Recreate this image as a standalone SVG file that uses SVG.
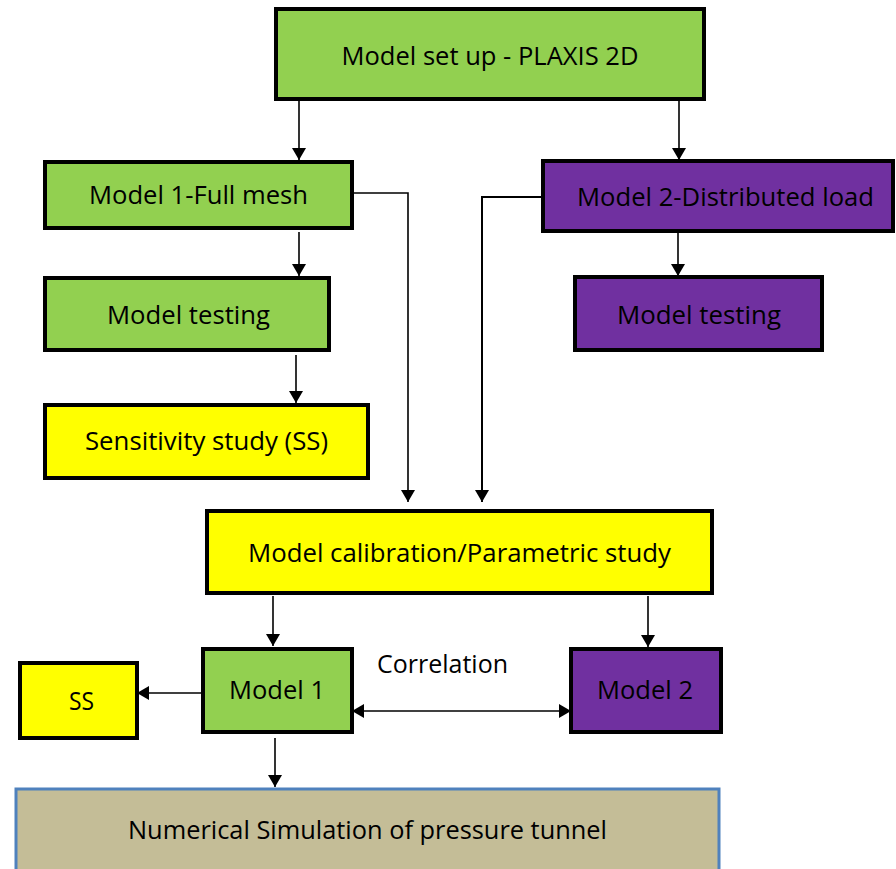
<svg xmlns="http://www.w3.org/2000/svg" width="896" height="869" viewBox="0 0 896 869">
<style>
.box{stroke:#000;stroke-width:4}
.g{fill:#92D050}.p{fill:#7030A0}.y{fill:#FFFF00}
.t{font-family:"Open Sans","Noto Sans","Liberation Sans",sans-serif;font-size:26px;fill:#000}
.c{fill:none;stroke:#000;stroke-width:1.6}
</style>
<defs>
<marker id="ah" viewBox="0 0 12 14" refX="12" refY="7" markerWidth="12" markerHeight="14" markerUnits="userSpaceOnUse" orient="auto-start-reverse">
<path d="M0,0 L12,7 L0,14 Z" fill="#000"/>
</marker>
</defs>
<rect width="896" height="869" fill="#fff"/>
<g id="connectors">
<path class="c" d="M299,99 V160" marker-end="url(#ah)"/>
<path class="c" d="M679,99 V160" marker-end="url(#ah)"/>
<path class="c" d="M352,193 H408 V502" marker-end="url(#ah)"/>
<path class="c" style="stroke-width:2" d="M543,197 H482 V502" marker-end="url(#ah)"/>
<path class="c" d="M299,232 V276" marker-end="url(#ah)"/>
<path class="c" d="M678,233 V276" marker-end="url(#ah)"/>
<path class="c" d="M296,355 V403" marker-end="url(#ah)"/>
<path class="c" d="M273,596 V646" marker-end="url(#ah)"/>
<path class="c" d="M648,596 V647" marker-end="url(#ah)"/>
<path class="c" d="M202,693 H137" marker-end="url(#ah)"/>
<path class="c" d="M275,738 V787" marker-end="url(#ah)"/>
<path class="c" d="M352,711 H571" marker-start="url(#ah)" marker-end="url(#ah)"/>
</g>
<g id="setup">
<rect class="box g" x="276" y="9" width="428" height="90"/>
<text class="t" x="490" y="65" text-anchor="middle" textLength="297" lengthAdjust="spacingAndGlyphs">Model set up - PLAXIS 2D</text>
</g>
<g id="model1full">
<rect class="box g" x="45" y="162" width="307" height="66"/>
<text class="t" x="198.5" y="204" text-anchor="middle" textLength="219" lengthAdjust="spacingAndGlyphs">Model 1-Full mesh</text>
</g>
<g id="model2dist">
<rect class="box p" x="543" y="161" width="350" height="70"/>
<text class="t" x="725.5" y="206" text-anchor="middle" textLength="297" lengthAdjust="spacingAndGlyphs">Model 2-Distributed load</text>
</g>
<g id="testing1">
<rect class="box g" x="45" y="278" width="284" height="72"/>
<text class="t" x="188.5" y="324" text-anchor="middle" textLength="163" lengthAdjust="spacingAndGlyphs">Model testing</text>
</g>
<g id="testing2">
<rect class="box p" x="575" y="277" width="247" height="73"/>
<text class="t" x="699" y="324" text-anchor="middle" textLength="164" lengthAdjust="spacingAndGlyphs">Model testing</text>
</g>
<g id="sensitivity">
<rect class="box y" x="45" y="405" width="323" height="73"/>
<text class="t" x="206.5" y="450" text-anchor="middle" textLength="243" lengthAdjust="spacingAndGlyphs">Sensitivity study (SS)</text>
</g>
<g id="calibration">
<rect class="box y" x="207" y="511" width="505" height="82"/>
<text class="t" x="459.5" y="562" text-anchor="middle" textLength="423" lengthAdjust="spacingAndGlyphs">Model calibration/Parametric study</text>
</g>
<g id="ss">
<rect class="box y" x="20" y="663" width="117" height="75"/>
<text class="t" x="81.5" y="710" text-anchor="middle" textLength="25" lengthAdjust="spacingAndGlyphs">SS</text>
</g>
<g id="model1">
<rect class="box g" x="203" y="649" width="149" height="83"/>
<text class="t" x="277" y="699" text-anchor="middle" textLength="96" lengthAdjust="spacingAndGlyphs">Model 1</text>
</g>
<g id="model2">
<rect class="box p" x="571" y="649" width="150" height="83"/>
<text class="t" x="645" y="699" text-anchor="middle" textLength="96" lengthAdjust="spacingAndGlyphs">Model 2</text>
</g>
<g id="correlation">
<text class="t" x="442.5" y="673" text-anchor="middle" textLength="131" lengthAdjust="spacingAndGlyphs">Correlation</text>
</g>
<g id="numerical">
<rect x="16" y="789" width="703" height="90" fill="#C4BD97" stroke="#4F81BD" stroke-width="3"/>
<text class="t" x="367.5" y="839" text-anchor="middle" textLength="479" lengthAdjust="spacingAndGlyphs">Numerical Simulation of pressure tunnel</text>
</g>
</svg>
